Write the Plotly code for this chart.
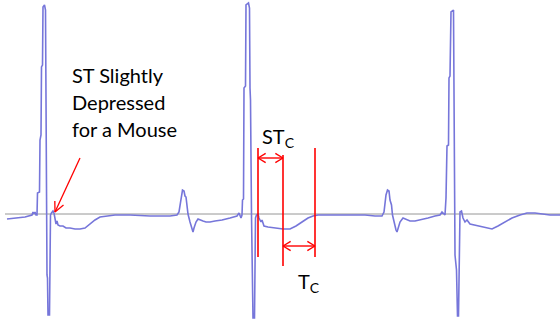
import math
import plotly.graph_objects as go

# ECG trace: time (arbitrary units) and amplitude relative to isoelectric baseline
ecg_time = [
    7, 15, 25, 32, 33, 34, 35, 36, 37, 37.5, 39.5, 40, 41, 41.5, 42.5, 43, 44.5, 45.5, 46, 46.5,
    47, 47.5, 48, 49.5, 50.5, 51.5, 53, 54, 55, 56, 57, 58, 60, 63, 66, 70, 75, 80, 85, 90,
    95, 100, 107, 115, 130, 150, 170, 177, 179, 181, 182.5, 184, 185, 186, 187, 188, 190, 192, 193, 194,
    196, 198, 200, 203, 206, 210, 215, 222, 230, 237, 239, 240, 241, 242,
    242.5, 243.5, 244, 245.5, 246, 248.5, 249.5, 250, 250.5, 251.5, 252, 253, 254.5, 255.5, 256.5, 258,
    259, 261, 262, 264, 268, 275, 283, 290, 296, 302, 308, 313, 318, 330, 350, 365, 375, 382, 384, 386,
    387.5, 389, 390, 391.5, 392.5, 394, 396, 397, 398, 400, 403, 406, 410, 415, 420, 428, 435, 440, 442, 443,
    444, 445, 446, 447, 448.5, 449, 450, 451, 453.5, 454, 455, 456.5, 457.5, 458.5, 460, 461.5, 463, 465, 467, 470,
    475, 482, 488, 492, 498, 505, 512, 520, 527, 535, 542, 550, 560,
]
ecg_amp = [
    -5, -4, -3, -1, 2, 0, 2, -1, -1, 21, 22, 74, 79, 147, 149, 207, 209, 204, 84, 79,
    -61, -64, -101, -101, -1, 1, 3, 1, -6, -10, -7, -11, -12, -12, -14, -14, -15, -15, -14, -10,
    -6, -3, -2, -1, -1, -2, -2, -1, 2, 14, 24, 23, 18, 17, 9, 0, -8, -16, -18, -14,
    -8, -5, -6, -7, -8, -8, -7, -6, -4, -2, 1, -3, -4, -1,
    14, 15, 126, 128, 209, 211, 206, 126, 114, -1, -46, -104, -104, -4, -1, 0,
    -4, -8, -6, -12, -13, -14, -15, -15, -12, -8, -4, -2, -1, -1, -1, -1, -2, -2, 2, 19,
    24, 23, 14, 9, -1, -8, -16, -18, -14, -8, -4, -5, -7, -7, -6, -4, -2, -1, 2, 1,
    -1, -1, 16, 68, 69, 136, 138, 202, 204, 97, -41, -56, -102, -102, 2, 3, -4, -8, -6, -10,
    -11, -13, -14, -15, -12, -8, -4, -1, 1, 1, 0, -1, -1,
]

# Interval markers (ST_C start, T_C start / ST_C end, T_C end)
marker_times = [258, 283, 315]
note_lines = ["ST Slightly", "Depressed", "for a Mouse"]

BLUE = "rgb(118,118,218)"
RED = "#ff0000"
FONT = "Lato"

fig = go.Figure()
fig.add_trace(go.Scatter(x=ecg_time, y=ecg_amp, mode="lines",
                         line=dict(color=BLUE, width=1.6), hoverinfo="skip"))

# baseline
fig.add_shape(type="line", x0=5, x1=560, y0=0, y1=0,
              line=dict(color="rgb(150,150,150)", width=1), layer="below")

# red vertical markers
marker_spans = [(66, -43), (59, -52), (66, -43)]
for t, (top, bot) in zip(marker_times, marker_spans):
    fig.add_shape(type="line", x0=t, x1=t, y0=bot, y1=top,
                  line=dict(color=RED, width=1.6))


def red_line(x0, y0, x1, y1, w=1.4):
    fig.add_shape(type="line", x0=x0, y0=y0, x1=x1, y1=y1,
                  line=dict(color=RED, width=w))


def head(xt, yt, xf, yf, length=9, spread=0.55, w=1.4):
    # V arrowhead at (xt, yt), pointing away from (xf, yf); axes are 1 unit per pixel
    ang = math.atan2(yt - yf, xt - xf)
    for s in (spread, -spread):
        red_line(xt, yt, xt - length * math.cos(ang + s), yt - length * math.sin(ang + s), w)


# double-headed interval arrows
for (a, b, yy) in [(marker_times[0], marker_times[1], 56), (marker_times[1], marker_times[2], -32)]:
    red_line(a, yy, b, yy)
    head(b, yy, a, yy)
    head(a, yy, b, yy)

# pointer arrow
red_line(80, 56, 55, 2, 1.3)
head(55, 2, 80, 56, length=11, spread=0.45, w=1.3)

annos = []
for i, line in enumerate(note_lines):
    annos.append(dict(x=70, y=139 - 27 * i, xref="x", yref="y", text=line, showarrow=False,
                      xanchor="left", yanchor="middle",
                      font=dict(family=FONT, size=20, color="black")))

annos.append(dict(x=260, y=77, xref="x", yref="y", text="ST<sub>C</sub>", showarrow=False,
                  xanchor="left", yanchor="middle", font=dict(family=FONT, size=20, color="black")))
annos.append(dict(x=296, y=-68, xref="x", yref="y", text="T<sub>C</sub>", showarrow=False,
                  xanchor="left", yanchor="middle", font=dict(family=FONT, size=20, color="black")))

fig.update_layout(
    width=560, height=330,
    margin=dict(l=0, r=0, t=0, b=0),
    paper_bgcolor="white", plot_bgcolor="white",
    showlegend=False,
    hovermode=False,
    xaxis=dict(range=[0, 560], visible=False, fixedrange=True),
    yaxis=dict(range=[-116, 214], visible=False, fixedrange=True),
    annotations=annos,
)

fig.write_html("out.html", config={"displayModeBar": False, "staticPlot": True},
               post_script="document.body.style.margin='0px';document.body.style.overflow='hidden';")
